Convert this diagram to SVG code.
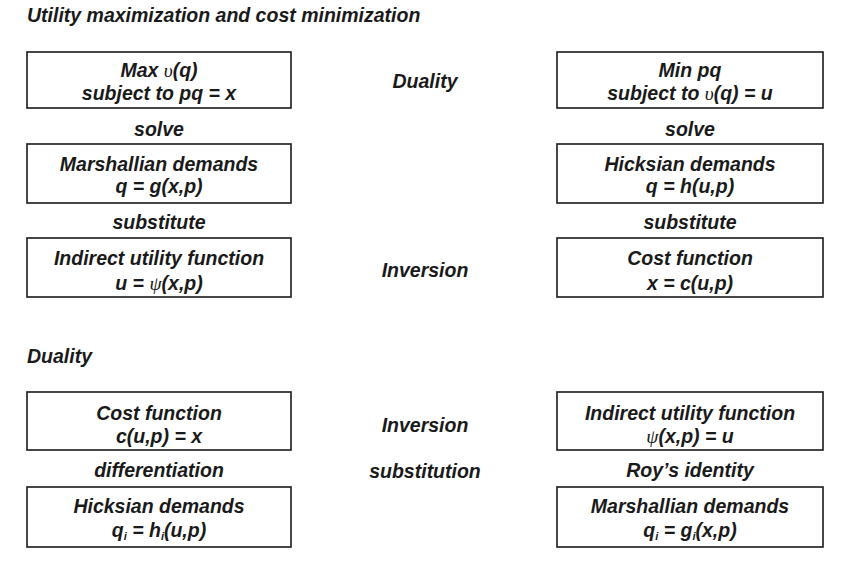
<svg xmlns="http://www.w3.org/2000/svg" width="861" height="575" viewBox="0 0 861 575">
<style>
text{font-family:"Liberation Sans",Arial,sans-serif;font-weight:bold;font-style:italic;font-size:19.5px;fill:#1a1a1a}
.c{text-anchor:middle}
.box{fill:#fff;stroke:#1a1a1a;stroke-width:1.6}
.g{font-family:"Liberation Serif","DejaVu Serif",serif;font-weight:normal}
.sub{font-size:11px}
</style>
<rect width="861" height="575" fill="#fff"/>
<text x="27" y="22">Utility maximization and cost minimization</text>
<text x="27" y="363">Duality</text>

<g id="max-problem"><rect class="box" x="27" y="52" width="264" height="56"/>
<text class="c" x="159" y="77">Max <tspan class="g">υ</tspan>(q)</text>
<text class="c" x="159" y="100">subject to pq = x</text></g>

<g id="min-problem"><rect class="box" x="557" y="52" width="266" height="56"/>
<text class="c" x="690" y="77">Min pq</text>
<text class="c" x="690" y="100">subject to <tspan class="g">υ</tspan>(q) = u</text></g>

<g id="marshallian"><rect class="box" x="27" y="144" width="264" height="59"/>
<text class="c" x="159" y="171">Marshallian demands</text>
<text class="c" x="159" y="193">q = g(x,p)</text></g>

<g id="hicksian"><rect class="box" x="557" y="144" width="266" height="59"/>
<text class="c" x="690" y="171">Hicksian demands</text>
<text class="c" x="690" y="193">q = h(u,p)</text></g>

<g id="indirect-utility"><rect class="box" x="27" y="238" width="264" height="59"/>
<text class="c" x="159" y="265">Indirect utility function</text>
<text class="c" x="159" y="290">u = <tspan class="g">ψ</tspan>(x,p)</text></g>

<g id="cost-function"><rect class="box" x="557" y="238" width="266" height="59"/>
<text class="c" x="690" y="265">Cost function</text>
<text class="c" x="690" y="290">x = c(u,p)</text></g>

<g id="cost-function-2"><rect class="box" x="27" y="392" width="264" height="58"/>
<text class="c" x="159" y="420">Cost function</text>
<text class="c" x="159" y="443">c(u,p) = x</text></g>

<g id="indirect-utility-2"><rect class="box" x="557" y="392" width="266" height="58"/>
<text class="c" x="690" y="420">Indirect utility function</text>
<text class="c" x="690" y="443"><tspan class="g">ψ</tspan>(x,p) = u</text></g>

<g id="hicksian-2"><rect class="box" x="27" y="487" width="264" height="60"/>
<text class="c" x="159" y="513">Hicksian demands</text>
<text class="c" x="159" y="537">q<tspan class="sub" dy="3">i</tspan><tspan dy="-3"> = h</tspan><tspan class="sub" dy="3">i</tspan><tspan dy="-3">(u,p)</tspan></text></g>

<g id="marshallian-2"><rect class="box" x="557" y="487" width="266" height="60"/>
<text class="c" x="690" y="513">Marshallian demands</text>
<text class="c" x="690" y="537">q<tspan class="sub" dy="3">i</tspan><tspan dy="-3"> = g</tspan><tspan class="sub" dy="3">i</tspan><tspan dy="-3">(x,p)</tspan></text></g>

<g id="connectors">
<text class="c" x="425" y="88">Duality</text>
<text class="c" x="425" y="277">Inversion</text>
<text class="c" x="159" y="136">solve</text>
<text class="c" x="690" y="136">solve</text>
<text class="c" x="159" y="229">substitute</text>
<text class="c" x="690" y="229">substitute</text>
<text class="c" x="425" y="432">Inversion</text>
<text class="c" x="425" y="478">substitution</text>
<text class="c" x="159" y="477">differentiation</text>
<text class="c" x="690" y="477">Roy’s identity</text>
</g>
</svg>
